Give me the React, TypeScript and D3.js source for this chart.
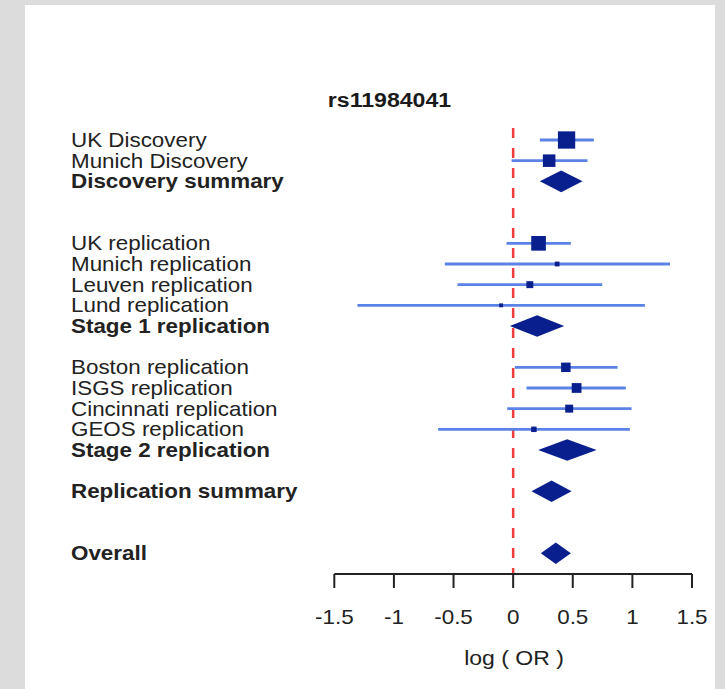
import React from 'react'
import * as d3 from 'd3'

const width = 725
const height = 689

// forest plot rows, "" = empty spacer row
const labels = [
  'UK Discovery', 'Munich Discovery', 'Discovery summary', '', '',
  'UK replication', 'Munich replication', 'Leuven replication', 'Lund replication', 'Stage 1 replication', '',
  'Boston replication', 'ISGS replication', 'Cincinnati replication', 'GEOS replication', 'Stage 2 replication', '',
  'Replication summary', '', '', 'Overall',
]
const isSummary = [
  false, false, true, false, false,
  false, false, false, false, true, false,
  false, false, false, false, true, false,
  true, false, false, true,
]
const mean = [
  0.448, 0.302, 0.403, null, null,
  0.213, 0.369, 0.140, -0.101, 0.201, null,
  0.442, 0.532, 0.470, 0.174, 0.453, null,
  0.322, null, null, 0.358,
]
const lower = [
  0.224, -0.013, 0.224, null, null,
  -0.056, -0.573, -0.467, -1.306, -0.028, null,
  0.014, 0.112, -0.050, -0.629, 0.210, null,
  0.154, null, null, 0.232,
]
const upper = [
  0.677, 0.624, 0.582, null, null,
  0.484, 1.315, 0.747, 1.105, 0.428, null,
  0.876, 0.945, 0.993, 0.979, 0.700, null,
  0.490, null, null, 0.484,
]
const tickValues = [-1.5, -1, -0.5, 0, 0.5, 1, 1.5]
const title = 'rs11984041'
const xLabel = 'log ( OR )'

const font = '"Liberation Sans", Arial, Helvetica, sans-serif'
const navy = '#0a1f8e'
const ciBlue = '#5b82e6'

const x = d3.scaleLinear().domain([-1.5, 1.5]).range([334.3, 692])
const y = d3.scaleLinear().domain([0, labels.length - 1]).range([140, 553.3])
const axisY = 574

// box side proportional to 1 / CI width (precision)
const precision = labels.map((_, i) =>
  !isSummary[i] && mean[i] != null ? 1 / ((upper[i] as number) - (lower[i] as number)) : 0)
const boxSize = d3.scaleLinear().domain([0, d3.max(precision) as number]).range([0.8, 17.3])

const diamondHalf = 10.8

export default function App() {
  return (
    <svg width={width} height={height} style={{ position: 'absolute', left: 0, top: 0 }}>
      <rect x={0} y={0} width={width} height={height} fill="#dcdcdc" />
      <rect x={25} y={5} width={690} height={height - 5} fill="#ffffff" />

      <text
        transform={`translate(${389.5},${107.3}) scale(1.1,1)`}
        textAnchor="middle"
        style={{ fontFamily: font, fontSize: 21, fontWeight: 'bold', fill: '#1a1a1a' }}
      >
        {title}
      </text>

      {/* row labels */}
      {labels.map((lab, i) => lab === '' ? null : (
        <text
          key={'l' + i}
          transform={`translate(71,${y(i) + 7}) scale(1.12,1)`}
          style={{ fontFamily: font, fontSize: 20, fontWeight: isSummary[i] ? 'bold' : 'normal', fill: '#222' }}
        >
          {lab}
        </text>
      ))}

      {/* reference line at zero */}
      <line
        x1={x(0)} x2={x(0)} y1={128} y2={axisY}
        stroke="#f03c3c" strokeWidth={2.5} strokeDasharray="10,10"
      />

      {/* estimates */}
      {labels.map((_, i) => {
        if (mean[i] == null) return null
        const m = mean[i] as number
        const lo = lower[i] as number
        const hi = upper[i] as number
        const cy = y(i)
        if (isSummary[i]) {
          const pts = [[x(lo), cy], [x(m), cy - diamondHalf], [x(hi), cy], [x(m), cy + diamondHalf]]
          return <polygon key={'d' + i} points={pts.map(p => p.join(',')).join(' ')} fill={navy} />
        }
        const s = boxSize(precision[i])
        return (
          <g key={'e' + i}>
            <line x1={x(lo)} x2={x(hi)} y1={cy} y2={cy} stroke={ciBlue} strokeWidth={2.8} />
            <rect x={x(m) - s / 2} y={cy - s / 2} width={s} height={s} fill={navy} />
          </g>
        )
      })}

      {/* x axis */}
      <g style={{ fontFamily: font }}>
        <line x1={x(-1.5)} x2={x(1.5)} y1={axisY} y2={axisY} stroke="#222" strokeWidth={2} />
        {tickValues.map(t => (
          <g key={t}>
            <line x1={x(t)} x2={x(t)} y1={axisY} y2={axisY + 14} stroke="#222" strokeWidth={2} />
            <text
              transform={`translate(${x(t)},624) scale(1.12,1)`}
              textAnchor="middle"
              style={{ fontSize: 20, fill: '#222' }}
            >
              {String(t)}
            </text>
          </g>
        ))}
        <text
          transform={`translate(${514},${665}) scale(1.15,1)`}
          textAnchor="middle"
          style={{ fontSize: 20, fill: '#222' }}
        >
          {xLabel}
        </text>
      </g>
    </svg>
  )
}
